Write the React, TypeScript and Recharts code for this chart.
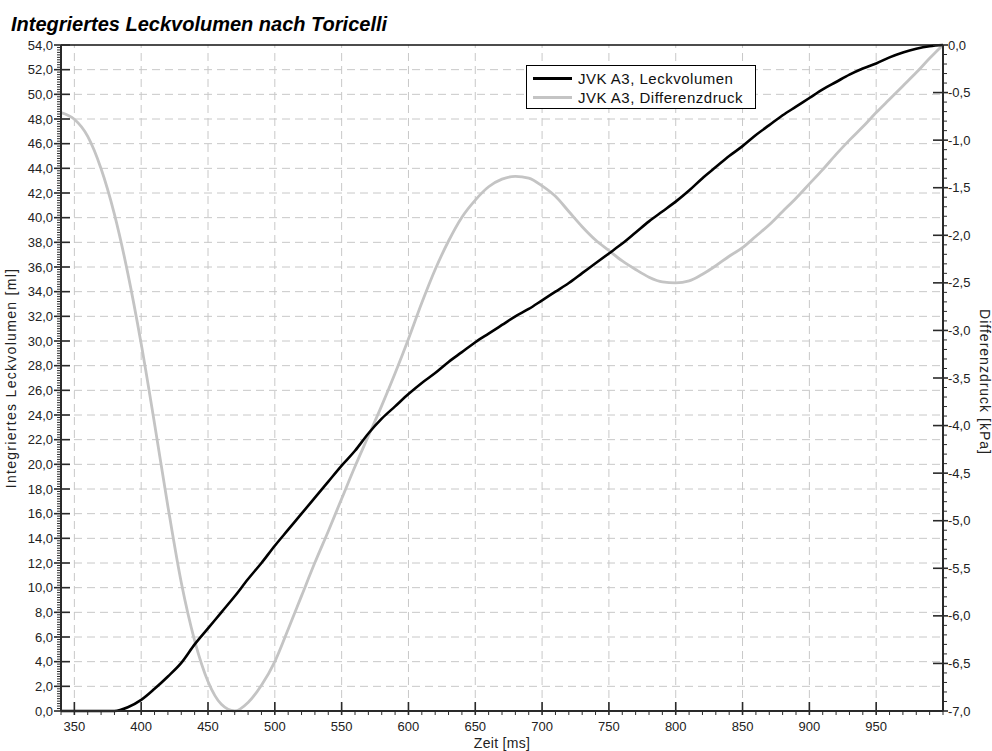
import { LineChart, Line, XAxis, YAxis, ReferenceLine } from 'recharts';

// Zeit [ms], Leckvolumen [ml] (linke Achse), Differenzdruck [kPa] (rechte Achse)
const zeit = [
  340, 350, 360, 370, 380, 390, 400, 410, 420, 430, 440, 450, 460, 470, 480, 490, 500,
  510, 520, 530, 540, 550, 560, 570, 580, 590, 600, 610, 620, 630, 640, 650, 660, 670,
  680, 690, 700, 710, 720, 730, 740, 750, 760, 770, 780, 790, 800, 810, 820, 830, 840,
  850, 860, 870, 880, 890, 900, 910, 920, 930, 940, 950, 960, 970, 980, 990, 1000,
];

const leckvolumen = [
  0, 0, 0, 0, 0, 0.3, 0.9, 1.8, 2.8, 3.9, 5.4, 6.7, 8.0, 9.3, 10.7, 12.0, 13.4,
  14.7, 16.0, 17.3, 18.6, 19.9, 21.1, 22.5, 23.7, 24.7, 25.7, 26.6, 27.4, 28.3, 29.1, 29.9, 30.6, 31.3,
  32.0, 32.6, 33.3, 34.0, 34.7, 35.5, 36.3, 37.1, 37.9, 38.8, 39.7, 40.5, 41.3, 42.2, 43.2, 44.1, 45.0,
  45.8, 46.7, 47.5, 48.3, 49.0, 49.7, 50.4, 51.0, 51.6, 52.1, 52.5, 53.0, 53.4, 53.7, 53.9, 54.0,
];

const differenzdruck = [
  -0.71, -0.78, -0.96, -1.3, -1.78, -2.4, -3.14, -3.98, -4.85, -5.65, -6.26, -6.69, -6.93, -7.0, -6.91, -6.73, -6.48,
  -6.14, -5.79, -5.44, -5.11, -4.77, -4.43, -4.11, -3.79, -3.45, -3.09, -2.71, -2.36, -2.06, -1.81, -1.63, -1.49, -1.41,
  -1.38, -1.4, -1.48, -1.59, -1.75, -1.91, -2.05, -2.16, -2.27, -2.36, -2.44, -2.49, -2.5, -2.48, -2.41, -2.32, -2.22,
  -2.13, -2.01, -1.89, -1.75, -1.61, -1.46, -1.31, -1.15, -1.0, -0.86, -0.71, -0.57, -0.43, -0.29, -0.14, 0.0,
];

const xMajor = [350, 400, 450, 500, 550, 600, 650, 700, 750, 800, 850, 900, 950];
const leftMajor = [0, 2, 4, 6, 8, 10, 12, 14, 16, 18, 20, 22, 24, 26, 28, 30, 32, 34, 36, 38, 40, 42, 44, 46, 48, 50, 52, 54];

// Neben-Teilstriche
const xTicks = Array.from({ length: 67 }, (_, i) => 340 + i * 10);
const leftTicks = Array.from({ length: 271 }, (_, i) => i / 5);
const rightTicks = Array.from({ length: 71 }, (_, i) => i / 10 - 7);

const data = zeit.map((t, i) => ({ t, leck: leckvolumen[i], druck: differenzdruck[i] }));

const FONT = '"Liberation Sans", Arial, sans-serif';
const AXIS = '#2a2a2a';
const GRID = '#c8c8c8';
const fmt = (v: number) => (Math.abs(v) < 1e-9 ? 0 : v).toFixed(1).replace('.', ',');

function LeftTick({ x, y, payload }: any) {
  const v = payload.value;
  if (Math.round(v * 5) % 10 !== 0) {
    return <line x1={x - 4} x2={x} y1={y} y2={y} stroke={AXIS} strokeWidth={1} />;
  }
  return (
    <g>
      <line x1={x - 7} x2={x + 9} y1={y} y2={y} stroke={AXIS} strokeWidth={1.6} />
      <text x={x - 8} y={y} dy={4.5} textAnchor="end" fontSize={13} fontFamily={FONT} fill="#222">
        {fmt(v)}
      </text>
    </g>
  );
}

function RightTick({ x, y, payload }: any) {
  const v = payload.value;
  if (Math.round(Math.abs(v) * 10) % 5 !== 0) {
    return <line x1={x} x2={x + 4} y1={y} y2={y} stroke={AXIS} strokeWidth={1} />;
  }
  return (
    <g>
      <line x1={x - 10} x2={x + 5} y1={y} y2={y} stroke={AXIS} strokeWidth={1.6} />
      <text x={x + 5} y={y} dy={4.5} textAnchor="start" fontSize={13} fontFamily={FONT} fill="#222">
        {fmt(v)}
      </text>
    </g>
  );
}

function BottomTick({ x, y, payload }: any) {
  const v = payload.value;
  if (!xMajor.includes(v)) {
    return <line x1={x} x2={x} y1={y} y2={y + 4} stroke={AXIS} strokeWidth={1} />;
  }
  return (
    <g>
      <line x1={x} x2={x} y1={y - 9} y2={y + 4} stroke={AXIS} strokeWidth={1.6} />
      <text x={x} y={y + 20} textAnchor="middle" fontSize={13} fontFamily={FONT} fill="#222">
        {v}
      </text>
    </g>
  );
}

export default function App() {
  return (
    <div style={{ position: 'absolute', left: 0, top: 0, width: 992, height: 751, background: '#fff', fontFamily: FONT }}>
      <LineChart width={992} height={751} data={data} margin={{ top: 45, right: 9, bottom: 10, left: 6 }}>
        {xMajor.map((v) => (
          <ReferenceLine key={'gx' + v} x={v} yAxisId="left" stroke={GRID} strokeDasharray="8 5" />
        ))}
        {leftMajor.slice(1, -1).map((v) => (
          <ReferenceLine key={'gy' + v} y={v} yAxisId="left" stroke={GRID} strokeDasharray="8 5" />
        ))}
        <ReferenceLine y={54} yAxisId="left" stroke="#111" strokeWidth={1.5} />
        <XAxis
          dataKey="t"
          type="number"
          domain={[340, 1000]}
          ticks={xTicks}
          interval={0}
          height={30}
          tickSize={0}
          tickMargin={0}
          tickLine={false}
          axisLine={{ stroke: AXIS, strokeWidth: 2 }}
          tick={<BottomTick />}
        />
        <YAxis
          yAxisId="left"
          type="number"
          domain={[0, 54]}
          ticks={leftTicks}
          interval={0}
          width={55}
          tickSize={0}
          tickMargin={0}
          tickLine={false}
          axisLine={{ stroke: AXIS, strokeWidth: 2 }}
          tick={<LeftTick />}
        />
        <YAxis
          yAxisId="right"
          orientation="right"
          type="number"
          domain={[-7, 0]}
          ticks={rightTicks}
          interval={0}
          width={40}
          tickSize={0}
          tickMargin={0}
          tickLine={false}
          axisLine={{ stroke: AXIS, strokeWidth: 2 }}
          tick={<RightTick />}
        />
        <Line
          yAxisId="right"
          type="monotone"
          dataKey="druck"
          stroke="#c4c4c4"
          strokeWidth={2.8}
          dot={false}
          isAnimationActive={false}
        />
        <Line
          yAxisId="left"
          type="monotone"
          dataKey="leck"
          stroke="#000"
          strokeWidth={2.6}
          dot={false}
          isAnimationActive={false}
        />
      </LineChart>

      <svg width={992} height={751} style={{ position: 'absolute', left: 0, top: 0, pointerEvents: 'none' }}>
        <text x={11} y={31} fontSize={20} fontWeight="bold" fontStyle="italic" fontFamily={FONT} fill="#000">
          Integriertes Leckvolumen nach Toricelli
        </text>
        <text
          transform="translate(16,378) rotate(-90)"
          textAnchor="middle"
          fontSize={14}
          letterSpacing={1.3}
          fontFamily={FONT}
          fill="#222"
        >
          Integriertes Leckvolumen [ml]
        </text>
        <text
          transform="translate(980,382) rotate(90)"
          textAnchor="middle"
          fontSize={14}
          letterSpacing={1}
          fontFamily={FONT}
          fill="#222"
        >
          Differenzdruck [kPa]
        </text>
        <text x={502} y={748} textAnchor="middle" fontSize={14} letterSpacing={0.3} fontFamily={FONT} fill="#222">
          Zeit [ms]
        </text>
      </svg>

      <div
        style={{
          position: 'absolute',
          left: 526,
          top: 65,
          width: 228,
          height: 42,
          border: '1px solid #000',
          background: '#fff',
          fontSize: 15,
          letterSpacing: 0.5,
          color: '#111',
        }}
      >
        {[
          { name: 'JVK A3, Leckvolumen', color: '#000' },
          { name: 'JVK A3, Differenzdruck', color: '#c4c4c4' },
        ].map((s, i) => (
          <div key={s.name} style={{ position: 'absolute', left: 6, top: 3 + i * 19, height: 18, display: 'flex', alignItems: 'center' }}>
            <div style={{ width: 39, height: 3, background: s.color, marginRight: 6 }} />
            <span>{s.name}</span>
          </div>
        ))}
      </div>
    </div>
  );
}
